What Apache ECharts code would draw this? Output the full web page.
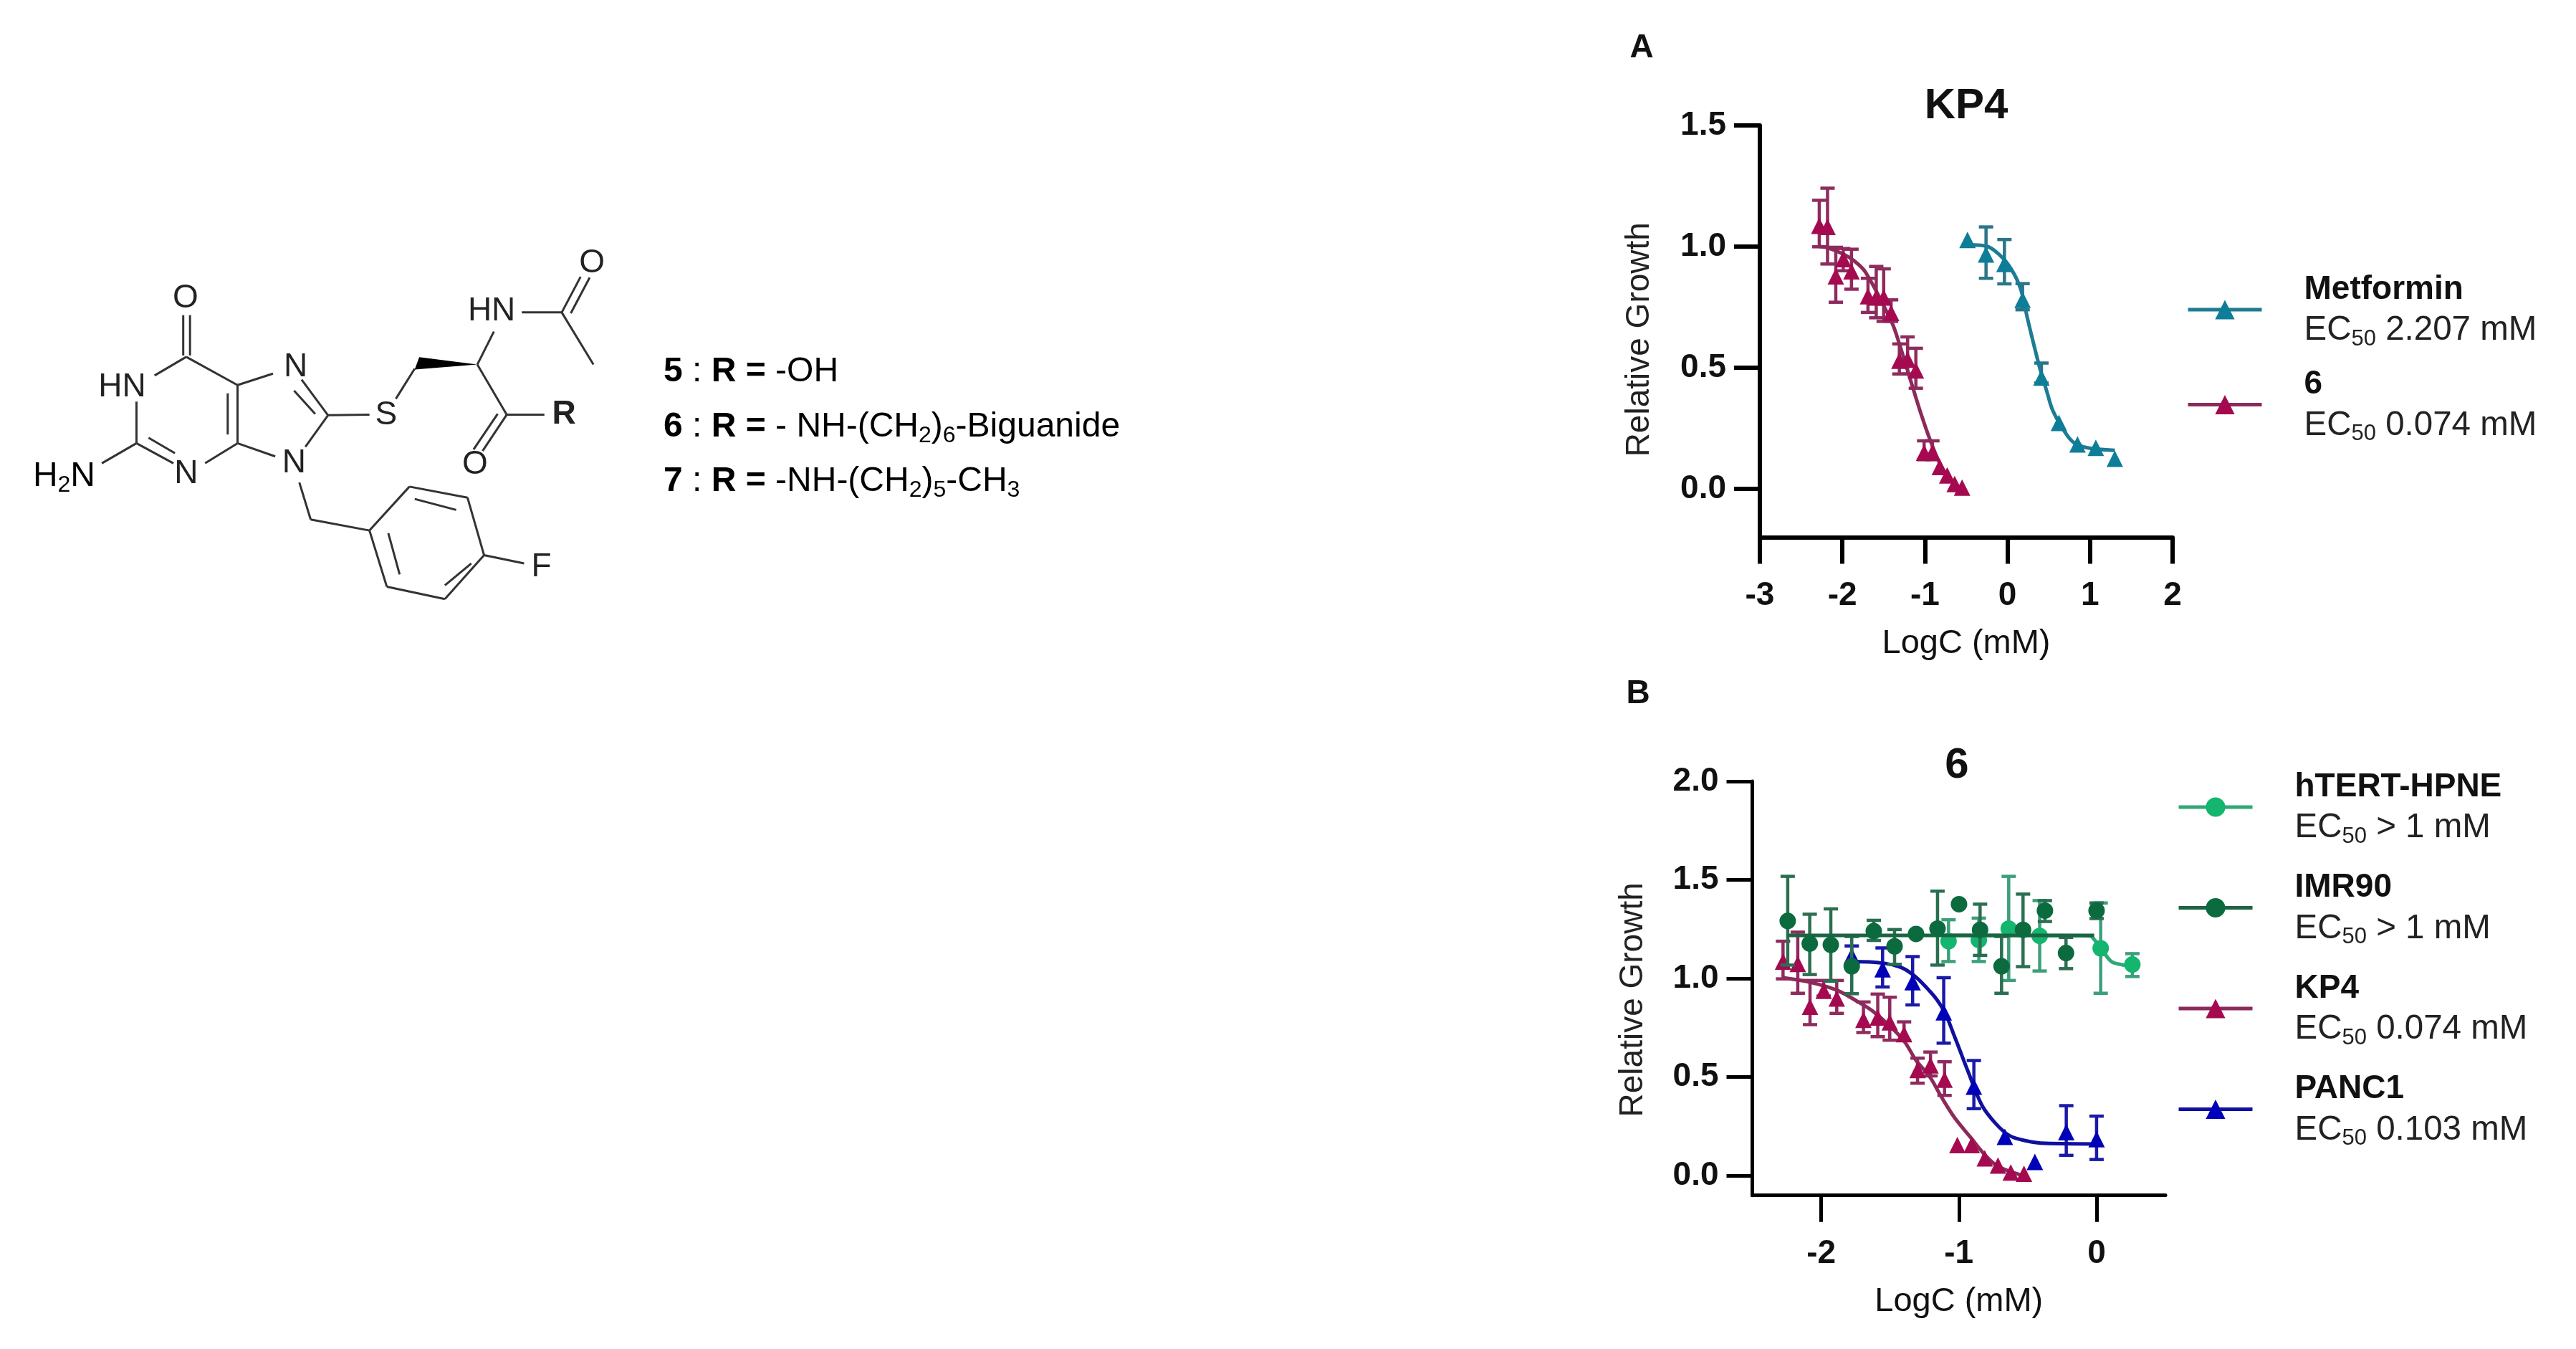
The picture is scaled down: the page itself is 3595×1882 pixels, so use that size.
<!DOCTYPE html>
<html><head><meta charset="utf-8">
<style>html,body{margin:0;padding:0;background:#fff}#c{width:3595px;height:1882px}</style>
<script src="https://cdn.jsdelivr.net/npm/echarts@6/dist/echarts.min.js"></script>
</head><body><div id="c"></div>
<script>
// ---- Panel A : KP4 ----
const metX   = [-0.485,-0.26,-0.037,0.183,0.411,0.623,0.848,1.07,1.30];
const metY   = [1.027,0.967,0.928,0.78,0.459,0.272,0.183,0.169,0.124];
const metHi  = [null,1.081,1.029,0.847,0.519,null,null,null,null];
const metLo  = [null,0.869,0.846,0.739,0.437,null,null,null,null];
const metCurveX = [-0.485,-0.26,-0.10,0.044,0.16,0.247,0.391,0.478,0.55,0.68,0.796,0.97,1.30];
const metCurveY = [1.007,1.002,0.967,0.908,0.825,0.696,0.499,0.40,0.322,0.243,0.193,0.169,0.159];

const sixX  = [-2.28,-2.18,-2.08,-1.99,-1.89,-1.69,-1.59,-1.50,-1.41,-1.31,-1.21,-1.11,-1.01,-0.91,-0.82,-0.73,-0.64,-0.55];
const sixY  = [1.086,1.081,0.877,0.948,0.898,0.795,0.79,0.79,0.726,0.529,0.533,0.489,0.149,0.149,0.09,0.055,0.02,0.005];
const sixHi = [1.191,1.241,0.997,0.992,0.989,0.869,0.918,0.908,0.78,0.598,0.627,0.58,0.198,0.198,null,null,null,null];
const sixLo = [0.999,0.928,0.77,0.90,0.824,0.728,0.706,0.691,0.691,0.474,0.474,0.415,0.12,0.12,null,null,null,null];
const sixCurveX = [-2.28,-2.18,-1.99,-1.865,-1.72,-1.40,-1.31,-1.14,-1.05,-0.94,-0.82,-0.71,-0.55];
const sixCurveY = [1.0,0.995,0.969,0.943,0.894,0.686,0.598,0.41,0.312,0.204,0.104,0.045,0.0];

// ---- Panel B : compound 6 ----
const hpneX  = [-1.075,-0.855,-0.638,-0.413,0.03,0.26];
const hpneY  = [1.189,1.195,1.253,1.216,1.153,1.071];
const hpneHi = [1.298,1.306,1.518,1.395,1.383,1.126];
const hpneLo = [1.086,1.086,0.99,1.038,0.925,1.01];
const hpneCurveX = [-1.08,-0.5,-0.05,-0.014,0.056,0.108,0.177,0.26];
const hpneCurveY = [1.218,1.218,1.216,1.195,1.129,1.086,1.071,1.062];

const imrX  = [-2.243,-2.083,-1.93,-1.778,-1.618,-1.467,-1.311,-1.155,-0.999,-0.846,-0.69,-0.534,-0.375,-0.222,0.0];
const imrY  = [1.292,1.177,1.171,1.062,1.24,1.163,1.226,1.253,1.377,1.247,1.062,1.247,1.344,1.129,1.344];
const imrHi = [1.518,1.326,1.353,1.213,1.295,1.248,null,1.443,null,1.377,1.213,1.428,1.395,1.208,1.383];
const imrLo = [1.068,1.02,0.986,0.923,1.193,1.072,null,1.068,null,1.117,0.925,1.06,1.289,1.05,1.304];
const imrCurveX = [-2.243,-1.5,-0.75,-0.017];
const imrCurveY = [1.218,1.218,1.218,1.218];

const kp4X  = [-2.277,-2.17,-2.081,-1.982,-1.887,-1.693,-1.589,-1.502,-1.398,-1.30,-1.206,-1.104,-1.011,-0.907,-0.812,-0.716,-0.623,-0.527];
const kp4Y  = [1.086,1.074,0.857,0.938,0.899,0.79,0.802,0.778,0.718,0.536,0.56,0.487,0.155,0.155,0.088,0.052,0.016,0.01];
const kp4Hi = [1.189,1.235,0.99,0.99,0.99,0.881,0.921,0.905,0.78,0.596,0.627,0.578,null,null,null,null,null,null];
const kp4Lo = [0.998,0.925,0.766,0.911,0.823,0.726,0.705,0.687,0.687,0.469,0.506,0.407,null,null,null,null,null,null];
const kp4CurveX = [-2.277,-2.08,-1.887,-1.731,-1.61,-1.409,-1.31,-1.21,-1.13,-1.031,-0.911,-0.812,-0.713,-0.533];
const kp4CurveY = [1.004,0.981,0.941,0.881,0.826,0.693,0.584,0.5,0.403,0.294,0.191,0.106,0.046,0.0];

const pancX  = [-1.778,-1.554,-1.336,-1.11,-0.891,-0.666,-0.448,-0.22,0.0];
const pancY  = [1.114,1.047,0.981,0.829,0.451,0.197,0.07,0.221,0.185];
const pancHi = [1.165,1.155,1.111,1.004,0.584,null,null,0.355,0.302];
const pancLo = [1.06,0.957,0.866,0.672,0.34,null,null,0.103,0.082];
const pancCurveX = [-1.778,-1.554,-1.384,-1.21,-1.11,-1.031,-0.931,-0.831,-0.732,-0.632,-0.513,-0.375,0.0];
const pancCurveY = [1.086,1.078,1.044,0.935,0.838,0.705,0.524,0.355,0.264,0.203,0.177,0.164,0.161];

// ---- Axis ticks ----
const aXTicks = [-3,-2,-1,0,1,2];
const aYTicks = [0,0.5,1,1.5];
const bXTicks = [-2,-1,0];
const bYTicks = [0,0.5,1,1.5,2];

const FONT = '"Liberation Sans", Arial, sans-serif';
const INK = '#111';

function zip(a,b){return a.map((v,i)=>[v,b[i]]);}

function errSeries(axis,xs,hi,lo,color,z){
  const data = xs.map((x,i)=>[x,hi[i],lo[i]]).filter(d=>d[1]!=null);
  return {type:'custom',xAxisIndex:axis,yAxisIndex:axis,silent:true,z,clip:false,
    data,encode:{x:0,y:[1,2]},
    renderItem(p,api){
      const top=api.coord([api.value(0),api.value(1)]);
      const bot=api.coord([api.value(0),api.value(2)]);
      const c=10;
      const st={stroke:color,lineWidth:4.5,fill:null};
      return {type:'group',children:[
        {type:'line',shape:{x1:top[0],y1:top[1],x2:bot[0],y2:bot[1]},style:st},
        {type:'line',shape:{x1:top[0]-c,y1:top[1],x2:top[0]+c,y2:top[1]},style:st},
        {type:'line',shape:{x1:bot[0]-c,y1:bot[1],x2:bot[0]+c,y2:bot[1]},style:st}
      ]};
    }};
}
function curve(axis,name,cx,cy,colors,marker,z){
  return {type:'line',name,xAxisIndex:axis,yAxisIndex:axis,data:zip(cx,cy),smooth:0.35,
    showSymbol:false,symbol:marker,silent:true,z,animation:false,
    lineStyle:{color:colors.line,width:5},itemStyle:{color:colors.mark}};
}
function pts(axis,xs,ys,color,marker,z){
  return {type:'scatter',xAxisIndex:axis,yAxisIndex:axis,data:zip(xs,ys),symbol:marker,symbolSize:23,silent:true,z,
    itemStyle:{color,opacity:1},animation:false};
}
function group(axis,name,d,colors,marker,z){
  return [errSeries(axis,d.x,d.hi,d.lo,colors.err,z),
          curve(axis,name,d.cx,d.cy,colors,marker,z),
          pts(axis,d.x,d.y,colors.mark,marker,z)];
}

const cTeal={err:'#2c7589',line:'#1d7c94',mark:'#0e7d98'};
const cWine={err:'#8f2b5e',line:'#8c2a5a',mark:'#a50a50'};
const cLight={err:'#3d9f7a',line:'#2fa877',mark:'#13b56f'};
const cDark={err:'#2a6f50',line:'#1c6444',mark:'#0b6b3f'};
const cBlue={err:'#1a1aa8',line:'#10109f',mark:'#0000b8'};

const series=[
  ...group(0,'Metformin',{x:metX,y:metY,hi:metHi,lo:metLo,cx:metCurveX,cy:metCurveY},cTeal,'triangle',3),
  ...group(0,'6',{x:sixX,y:sixY,hi:sixHi,lo:sixLo,cx:sixCurveX,cy:sixCurveY},cWine,'triangle',4),
  ...group(1,'hTERT-HPNE',{x:hpneX,y:hpneY,hi:hpneHi,lo:hpneLo,cx:hpneCurveX,cy:hpneCurveY},cLight,'circle',3),
  ...group(1,'PANC1',{x:pancX,y:pancY,hi:pancHi,lo:pancLo,cx:pancCurveX,cy:pancCurveY},cBlue,'triangle',4),
  ...group(1,'KP4',{x:kp4X,y:kp4Y,hi:kp4Hi,lo:kp4Lo,cx:kp4CurveX,cy:kp4CurveY},cWine,'triangle',5),
  ...group(1,'IMR90',{x:imrX,y:imrY,hi:imrHi,lo:imrLo,cx:imrCurveX,cy:imrCurveY},cDark,'circle',6)
];

function xAxis(i,min,max,ticks,w,nameGap){
  return {type:'value',gridIndex:i,min,max,name:'LogC (mM)',nameLocation:'middle',nameGap,
    nameTextStyle:{fontFamily:FONT,fontSize:47,color:INK},
    axisLine:{show:true,onZero:false,lineStyle:{color:'#000',width:w}},
    axisTick:{show:true,length:37,customValues:ticks,lineStyle:{color:'#000',width:w}},
    axisLabel:{customValues:ticks,margin:59,fontFamily:FONT,fontSize:46,fontWeight:'bold',color:INK,formatter:v=>String(v)},
    splitLine:{show:false}};
}
function yAxis(i,min,max,ticks,w,nameGap,pad){
  return {type:'value',gridIndex:i,min,max,name:'Relative Growth',nameLocation:'middle',nameGap,nameRotate:90,nameMoveOverlap:false,
    nameTextStyle:{fontFamily:FONT,fontSize:46,color:'#222',padding:pad},
    axisLine:{show:true,onZero:false,lineStyle:{color:'#000',width:w}},
    axisTick:{show:true,length:36,customValues:ticks,lineStyle:{color:'#000',width:w}},
    axisLabel:{customValues:ticks,margin:47,padding:[5,0,0,0],fontFamily:FONT,fontSize:46,fontWeight:'bold',color:INK,formatter:v=>v.toFixed(1)},
    splitLine:{show:false}};
}
const legendRich={
  n:{fontFamily:FONT,fontSize:46,fontWeight:'bold',color:INK,lineHeight:56,verticalAlign:'top'},
  t:{fontFamily:FONT,fontSize:47.5,color:'#222',lineHeight:46,verticalAlign:'top'},
  s:{fontFamily:FONT,fontSize:31,color:'#222',lineHeight:30,padding:[26,0,0,0]}
};
const ecText={'Metformin':' 2.207 mM','6':' 0.074 mM','hTERT-HPNE':' > 1 mM','IMR90':' > 1 mM','KP4':' 0.074 mM','PANC1':' 0.103 mM'};
function legend(names,left,top,gap){
  return {show:true,data:names,orient:'vertical',left,top,itemWidth:103,itemHeight:34,itemGap:gap,selectedMode:false,
    lineStyle:{width:5},
    textStyle:{rich:legendRich,padding:[0,0,0,54]},
    formatter:n=>`{n|${n}}\n{t|EC}{s|50}{t|${ecText[n]}}`};
}

// ---- Chemical structure (crop coordinates mapped to the page) ----
const SX=1.0523,SY=0.3827,OY=300;
const X=p=>p*SX, Y=p=>OY+p*SY;
const bonds=[
 [243,365,243,512],[252,365,252,512],[247,517,205,585],[181,680,181,832],[181,832,230,905],[197,812,232,868],
 [181,832,135,905],[272,905,315,832],[315,832,315,620],[302,800,302,650],[315,620,247,517],[315,620,362,578],
 [400,600,435,730],[390,640,418,725],[435,730,405,845],[365,880,315,832],[435,730,490,728],[525,670,550,560],
 [633,545,655,425],[692,355,745,355],[745,355,770,225],[757,358,782,228],[745,355,787,545],[633,545,672,728],
 [672,728,722,728],[672,728,640,860],[660,725,628,855],[397,975,412,1110],[412,1110,490,1150],
 [490,1150,543,990],[543,990,620,1030],[620,1030,642,1240],[642,1240,590,1400],[590,1400,513,1355],[513,1355,490,1150],
 [515,1160,530,1310],[550,1035,605,1075],[590,1350,625,1270],[642,1240,695,1270]
];
const atoms=[['O',246,305],['HN',162,627],['N',247,945],['N',392,555],['N',390,905],['S',512,730],['HN',652,352],['O',785,175],['R',748,728,1],['O',630,910],['F',718,1285]];
const chemRich={
  m:{fontFamily:FONT,fontSize:48,color:'#222',lineHeight:46,verticalAlign:'top'},
  b:{fontFamily:FONT,fontSize:48,fontWeight:'bold',color:'#111',lineHeight:46,verticalAlign:'top'},
  s:{fontFamily:FONT,fontSize:32,color:'#222',lineHeight:30,padding:[27,0,0,0]}
};
const graphics=[
 ...bonds.map(b=>({type:'line',silent:true,shape:{x1:X(b[0]),y1:Y(b[1]),x2:X(b[2]),y2:Y(b[3])},style:{stroke:'#333',lineWidth:3}})),
 {type:'polygon',silent:true,shape:{points:[[X(633),Y(545)],[X(556),Y(518)],[X(550),Y(563)]]},style:{fill:'#000'}},
 ...atoms.map(a=>({type:'text',silent:true,style:{text:a[0],x:X(a[1]),y:Y(a[2]),textAlign:'center',textVerticalAlign:'middle',fontFamily:FONT,fontSize:46,fontWeight:a[3]?'bold':'normal',fill:'#222'}})),
 {type:'text',silent:true,style:{text:'{m|H}{s|2}{m|N}',x:X(85),y:Y(950),textAlign:'center',textVerticalAlign:'middle',rich:chemRich}},
 {type:'text',silent:true,style:{text:'{b|5}{m| : }{b|R =}{m| -OH}',x:926,y:518,textAlign:'left',textVerticalAlign:'middle',rich:chemRich}},
 {type:'text',silent:true,style:{text:'{b|6}{m| : }{b|R =}{m| - NH-(CH}{s|2}{m|)}{s|6}{m|-Biguanide}',x:926,y:595,textAlign:'left',textVerticalAlign:'middle',rich:chemRich}},
 {type:'text',silent:true,style:{text:'{b|7}{m| : }{b|R =}{m| -NH-(CH}{s|2}{m|)}{s|5}{m|-CH}{s|3}',x:926,y:671,textAlign:'left',textVerticalAlign:'middle',rich:chemRich}},
 {type:'text',silent:true,style:{text:'A',x:2291,y:67,textAlign:'center',textVerticalAlign:'middle',fontFamily:FONT,fontSize:46,fontWeight:'bold',fill:INK}},
 {type:'text',silent:true,style:{text:'B',x:2286,y:968,textAlign:'center',textVerticalAlign:'middle',fontFamily:FONT,fontSize:46,fontWeight:'bold',fill:INK}}
];

const chart=echarts.init(document.getElementById('c'),null,{renderer:'canvas'});
chart.setOption({
  animation:false,backgroundColor:'#fff',
  title:[
    {text:'KP4',left:2739,top:143,textAlign:'center',textVerticalAlign:'middle',textStyle:{fontFamily:FONT,fontSize:60,fontWeight:'bold',color:INK}},
    {text:'6',left:2726,top:1063,textAlign:'center',textVerticalAlign:'middle',textStyle:{fontFamily:FONT,fontSize:60,fontWeight:'bold',color:INK}}
  ],
  grid:[
    {left:2456,top:175,width:576,height:574.5},
    {left:2445.5,top:1090,width:576.5,height:577.7}
  ],
  xAxis:[xAxis(0,-3,2,aXTicks,6,125),xAxis(1,-2.5,0.5,bXTicks,5,125)],
  yAxis:[yAxis(0,-0.2,1.5,aYTicks,6,145,[0,23,0,0]),yAxis(1,-0.1,2,bYTicks,5,143,[0,32,0,0])],
  legend:[legend(['Metformin','6'],3046,376,25),legend(['hTERT-HPNE','IMR90','KP4','PANC1'],3033,1070,33)],
  graphic:graphics,
  series
});
</script></body></html>
